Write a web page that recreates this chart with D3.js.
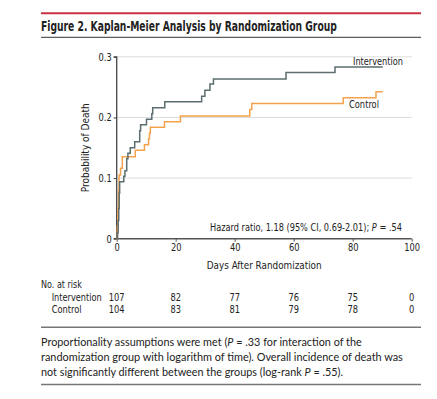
<!DOCTYPE html>
<html><head><meta charset="utf-8">
<script src="https://cdn.jsdelivr.net/npm/d3@7"></script>
<style>
html,body{margin:0;padding:0;background:#fff;}
svg{display:block;}
.cond{font-family:"DejaVu Sans Condensed","Liberation Sans Narrow",sans-serif;}
.cap{font-family:Lato,"Open Sans",sans-serif;}
</style></head>
<body>
<svg id="chart" width="437" height="399"></svg>
<script>
const title = "Figure 2. Kaplan-Meier Analysis by Randomization Group";
const seriesNames = ["Intervention", "Control"];
const interventionDays = [0, 0.3, 0.5, 0.7, 0.85, 1.0, 2.4, 2.8, 3.4, 3.8, 4.6, 6.1, 7.8, 8.1, 10.1, 11.9, 12.2, 16.3, 28.8, 29.9, 31.6, 32.8, 57.4, 74.0, 90.2];
const interventionProb = [0, 0.01, 0.03, 0.05, 0.075, 0.094, 0.103, 0.112, 0.132, 0.141, 0.150, 0.160, 0.178, 0.188, 0.197, 0.206, 0.216, 0.226, 0.235, 0.245, 0.255, 0.2635, 0.274, 0.283, 0.283];
const controlDays = [0, 0.2, 0.4, 0.6, 0.8, 1.3, 1.9, 6.3, 9.4, 10.8, 11.1, 11.4, 16.2, 21.6, 45.1, 45.8, 76.8, 87.9, 90.2];
const controlProb = [0, 0.02, 0.05, 0.08, 0.105, 0.116, 0.135, 0.146, 0.155, 0.165, 0.174, 0.184, 0.193, 0.2025, 0.213, 0.223, 0.2325, 0.2425, 0.2425];
const xTicks = [0, 20, 40, 60, 80, 100];
const yTicks = [0, 0.1, 0.2, 0.3];
const riskIntervention = [107, 82, 77, 76, 75, 0];
const riskControl = [104, 83, 81, 79, 78, 0];
const hazardText = ["Hazard ratio, 1.18 (95% CI, 0.69-2.01); ", "P", " = .54"];
const captionLines = [
  [["Proportionality assumptions were met (", false], ["P", true], [" = .33 for interaction of the", false]],
  [["randomization group with logarithm of time). Overall incidence of death was", false]],
  [["not significantly different between the groups (log-rank ", false], ["P", true], [" = .55).", false]]
];
const captionWidths = [321, 362, 302];

const colors = {Intervention: "#5c6d70", Control: "#f5a24c"};
const svg = d3.select("#chart");
const SQ = 0.88; // horizontal condensing for the narrow chart font

// place a text at (x0,y0) with optional rotation, squeezed horizontally to width w
function placeText(t, x0, y0, w, rot) {
  const node = t.node();
  const len = node.getComputedTextLength();
  const sx = w != null ? w / len : SQ;
  t.attr("x", 0).attr("y", 0)
   .attr("transform", `translate(${x0},${y0})${rot ? ` rotate(${rot})` : ""} scale(${sx},1)`);
  return t;
}
function squeezeTicks(sel) {
  sel.each(function () {
    const s = d3.select(this);
    s.attr("transform", `scale(${SQ},1)`).attr("x", (+s.attr("x") || 0) / SQ);
  });
}
function addText(cls, size, txt, opts = {}) {
  const t = svg.append("text").attr("class", cls).attr("font-size", size).attr("fill", "#222");
  if (opts.anchor) t.attr("text-anchor", opts.anchor);
  if (opts.bold) t.attr("font-weight", "bold");
  if (Array.isArray(txt)) txt.forEach(([s, it]) => t.append("tspan").attr("font-style", it ? "italic" : "normal").text(s));
  else t.text(txt);
  return t;
}

// header rules and title
svg.append("line").attr("x1", 41).attr("x2", 421).attr("y1", 13.3).attr("y2", 13.3).attr("stroke", "#c8323f").attr("stroke-width", 2);
placeText(addText("cond", 14, title, {bold: true}), 41, 30.5, 296);
svg.append("line").attr("x1", 41).attr("x2", 421).attr("y1", 37.3).attr("y2", 37.3).attr("stroke", "#333").attr("stroke-width", 1);

const x = d3.scaleLinear().domain([0, 100]).range([116.7, 411.7]);
const y = d3.scaleLinear().domain([0, 0.3]).range([238.7, 56.8]);

// gridlines
svg.append("g").selectAll("line").data(yTicks.filter(d => d > 0)).join("line")
  .attr("x1", x(0)).attr("x2", x(100)).attr("y1", d => y(d)).attr("y2", d => y(d))
  .attr("stroke", "#dcdcdc").attr("stroke-width", 1);

// axes
const yAxis = d3.axisLeft(y).tickValues(yTicks).tickFormat(d => d === 0 ? "0" : d3.format(".1f")(d)).tickSize(3).tickPadding(2);
const gy = svg.append("g").attr("transform", `translate(${x(0)},0)`).call(yAxis);
gy.select(".domain").attr("stroke", "#444").attr("stroke-width", 1.3).attr("d", `M-3,${y(0)}H0V${y(0.3)}H-3`);
gy.selectAll(".tick line").attr("stroke", "#444");
gy.selectAll(".tick text").attr("class", "cond").attr("font-size", 10.5).attr("fill", "#222").attr("font-family", "DejaVu Sans Condensed");
squeezeTicks(gy.selectAll(".tick text"));

const xAxis = d3.axisBottom(x).tickValues(xTicks).tickSize(3).tickPadding(2);
const gx = svg.append("g").attr("transform", `translate(0,${y(0)})`).call(xAxis);
gx.select(".domain").attr("stroke", "#555").attr("stroke-width", 1.5).attr("d", `M${x(0)},0H${x(100)}`);
gx.selectAll(".tick line").attr("stroke", "#555");
gx.selectAll(".tick text").attr("class", "cond").attr("font-size", 10.5).attr("fill", "#222").attr("font-family", "DejaVu Sans Condensed");
squeezeTicks(gx.selectAll(".tick text"));

// curves
const line = d3.line().x(d => x(d[0])).y(d => y(d[1])).curve(d3.curveStepAfter);
const ctrlData = d3.zip(controlDays, controlProb);
const intData = d3.zip(interventionDays, interventionProb);
svg.append("path").datum(ctrlData).attr("d", line).attr("fill", "none").attr("stroke", colors.Control).attr("stroke-width", 1.5);
svg.append("path").datum(intData).attr("d", line).attr("fill", "none").attr("stroke", colors.Intervention).attr("stroke-width", 1.5);

// series labels
placeText(addText("cond", 10.5, seriesNames[0]), 353, 64.5, 50);
placeText(addText("cond", 10.5, seriesNames[1]), 349, 108, 30);

// hazard text
placeText(addText("cond", 10.5, hazardText.map((s, i) => [s, i === 1])), 210, 231, 192);

// axis titles
placeText(addText("cond", 11, "Probability of Death", {anchor: "middle"}), 89, (y(0) + y(0.3)) / 2, 89, -90);
placeText(addText("cond", 11, "Days After Randomization", {anchor: "middle"}), (x(0) + x(100)) / 2, 269, 115);

// risk table
placeText(addText("cond", 10, "No. at risk"), 41, 287.5, 41);
const rows = [[seriesNames[0], riskIntervention, 300.5, 50], [seriesNames[1], riskControl, 312.5, 30]];
rows.forEach(([name, vals, yy, w]) => {
  placeText(addText("cond", 10.5, name), 51.7, yy, w);
  vals.forEach((v, i) => placeText(addText("cond", 10.5, String(v), {anchor: "middle"}), x(xTicks[i]), yy));
});

svg.append("line").attr("x1", 41).attr("x2", 421).attr("y1", 327.3).attr("y2", 327.3).attr("stroke", "#777").attr("stroke-width", 1.5);

// caption
captionLines.forEach((parts, i) => {
  placeText(addText("cap", 11.6, parts), 41, 345.5 + i * 15, captionWidths[i]);
});
svg.append("line").attr("x1", 41).attr("x2", 421).attr("y1", 384.5).attr("y2", 384.5).attr("stroke", "#777").attr("stroke-width", 1.5);
</script>
</body></html>
